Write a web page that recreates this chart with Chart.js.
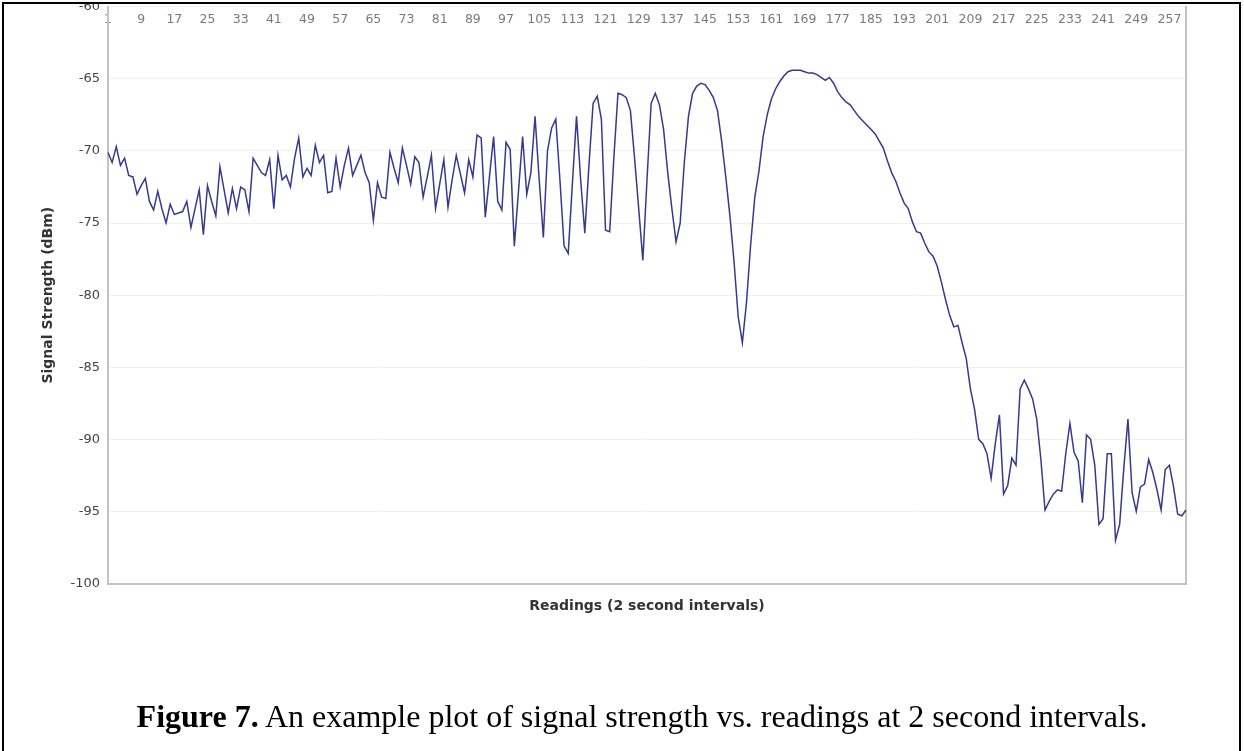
<!DOCTYPE html>
<html>
<head>
<meta charset="utf-8">
<script src="https://cdn.jsdelivr.net/npm/chart.js@4.4.0/dist/chart.umd.min.js"></script>
<style>
  html, body { margin: 0; padding: 0; background: #fff; }
  body { width: 1244px; height: 751px; position: relative; overflow: hidden; }
  #clip { position: absolute; left: 0; top: 4px; width: 1244px; height: 640px; overflow: hidden; }
  #chartBox { position: absolute; left: 0; top: -13.5px; width: 1244px; height: 650px; }
  #frame { position: absolute; left: 2px; top: 2px; width: 1235px; height: 800px; border: 2px solid #000; pointer-events: none; }
  #caption { position: absolute; left: 20px; top: 698px; width: 1244px; text-align: center; line-height: 36px;
             font-family: "Liberation Serif", "Times New Roman", serif; font-size: 32px; color: #000; }
</style>
</head>
<body>
<div id="clip"><div id="chartBox"><canvas id="signalChart"></canvas></div></div>
<div id="frame"></div>
<div id="caption"><b>Figure 7.</b> An example plot of signal strength vs. readings at 2 second intervals.</div>

<script>
// signal strength (dBm), one reading every 2 seconds
var signal = [
  -70.1, -70.8, -69.7, -71.0, -70.5, -71.7, -71.8, -73.0, -72.4, -71.9,
  -73.5, -74.1, -72.8, -74.0, -75.0, -73.7, -74.4, -74.3, -74.2, -73.5,
  -75.3, -74.0, -72.7, -75.8, -72.4, -73.5, -74.5, -71.1, -72.7, -74.3,
  -72.6, -74.0, -72.5, -72.7, -74.2, -70.5, -71.0, -71.5, -71.7, -70.6,
  -74.0, -70.3, -72.0, -71.7, -72.5, -70.5, -69.1, -71.8, -71.2, -71.7,
  -69.6, -70.8, -70.3, -72.9, -72.8, -70.5, -72.5, -71.0, -69.8, -71.7,
  -71.0, -70.3, -71.5, -72.2, -74.8, -72.2, -73.2, -73.3, -70.1, -71.2,
  -72.2, -69.8, -71.0, -72.3, -70.4, -70.8, -73.2, -71.8, -70.3, -74.0,
  -72.3, -70.6, -73.9, -72.0, -70.3, -71.6, -72.9, -70.6, -71.8, -68.9,
  -69.1, -74.6, -71.8, -69.0, -73.5, -74.1, -69.4, -69.9, -76.6, -72.8,
  -69.0, -73.0, -71.5, -67.6, -72.0, -76.0, -70.0, -68.4, -67.8, -72.0,
  -76.6, -77.1, -72.3, -67.6, -72.0, -75.7, -71.0, -66.7, -66.2, -67.8,
  -75.5, -75.6, -70.5, -66.0, -66.1, -66.3, -67.2, -70.5, -74.0, -77.6,
  -72.0, -66.7, -66.0, -66.8, -68.5, -71.5, -74.0, -76.3, -75.0, -70.8,
  -67.6, -66.0, -65.5, -65.3, -65.4, -65.8, -66.3, -67.2, -69.3, -71.8,
  -74.5, -77.7, -81.5, -83.3, -80.5, -76.5, -73.2, -71.4, -69.0, -67.5,
  -66.4, -65.7, -65.2, -64.8, -64.5, -64.4, -64.4, -64.4, -64.5, -64.6,
  -64.6, -64.7, -64.9, -65.1, -64.9, -65.3, -65.9, -66.3, -66.6, -66.8,
  -67.2, -67.6, -67.9, -68.2, -68.5, -68.8, -69.3, -69.8, -70.7, -71.5,
  -72.1, -72.9, -73.6, -74.0, -74.9, -75.6, -75.7, -76.4, -77.0, -77.3,
  -78.0, -79.1, -80.3, -81.4, -82.2, -82.1, -83.3, -84.4, -86.5, -87.9,
  -90.0, -90.3, -91.0, -92.7, -90.3, -88.3, -93.8, -93.2, -91.3, -91.8,
  -86.5, -85.9, -86.5, -87.2, -88.6, -91.4, -94.9, -94.3, -93.8, -93.5,
  -93.6, -91.0, -88.9, -90.9, -91.5, -94.4, -89.7, -90.0, -91.8, -95.9,
  -95.5, -91.0, -91.0, -97.0, -95.9, -92.0, -88.6, -93.7, -95.0, -93.3,
  -93.1, -91.4, -92.3, -93.5, -94.9, -92.1, -91.8, -93.3, -95.2, -95.3,
  -94.9
];

// reading numbers 1..n, only every 8th one is printed on the axis
var readings = [];
for (var i = 0; i < signal.length; i++) {
  readings.push(String(i + 1));
}
var labelEvery = 8;

var yMin = -100;
var yMax = -60;
var yStep = 5;

var xTickFont = { family: 'DejaVu Sans', size: 12.5 };
var yTickFont = { family: 'DejaVu Sans', size: 13 };
var titleFont = { family: 'DejaVu Sans', size: 14, weight: 'bold' };
var frameGray = '#c4c4c4';

var ctx = document.getElementById('signalChart');

var myChart = new Chart(ctx, {
  type: 'line',
  data: {
    labels: readings,
    datasets: [{
      label: 'Signal Strength',
      data: signal,
      borderColor: '#38388f',
      borderWidth: 1.5,
      pointRadius: 0,
      tension: 0,
      fill: false
    }]
  },
  options: {
    responsive: true,
    maintainAspectRatio: false,
    animation: false,
    layout: {
      padding: { top: 12, bottom: 17.5, left: 0, right: 58 }
    },
    plugins: {
      legend: { display: false },
      tooltip: { enabled: false }
    },
    scales: {
      // labels hang under the top edge of the plot, like the Excel original
      x: {
        type: 'category',
        position: { y: yMax },
        grid: { display: false },
        border: { display: false },
        ticks: {
          autoSkip: false,
          maxRotation: 0,
          padding: -3,
          color: '#7a7a7a',
          font: xTickFont,
          callback: function (value, index) {
            return index % labelEvery === 0 ? this.getLabelForValue(value) : '';
          }
        }
      },
      x2: {
        type: 'category',
        position: 'bottom',
        grid: { display: false },
        border: { display: true, color: frameGray, width: 2 },
        ticks: { display: false },
        title: {
          display: true,
          text: 'Readings (2 second intervals)',
          color: '#333',
          font: titleFont,
          padding: { top: 0, bottom: 8.6 }
        },
        afterFit: function (scale) { scale.height = 40; }
      },
      y: {
        type: 'linear',
        position: 'left',
        min: yMin,
        max: yMax,
        grid: { color: '#f0f0f0', drawTicks: false },
        border: { display: true, color: frameGray, width: 2 },
        ticks: {
          stepSize: yStep,
          padding: 8,
          color: '#444',
          font: yTickFont
        },
        title: {
          display: true,
          text: 'Signal Strength (dBm)',
          color: '#333',
          font: titleFont,
          padding: { top: 40, bottom: 0 }
        },
        afterFit: function (scale) { scale.width = 108; }
      },
      y2: {
        type: 'linear',
        position: 'right',
        min: yMin,
        max: yMax,
        grid: { display: false },
        border: { display: true, color: frameGray, width: 2 },
        ticks: { display: false },
        afterFit: function (scale) { scale.width = 0; }
      }
    }
  }
});
</script>
</body>
</html>
